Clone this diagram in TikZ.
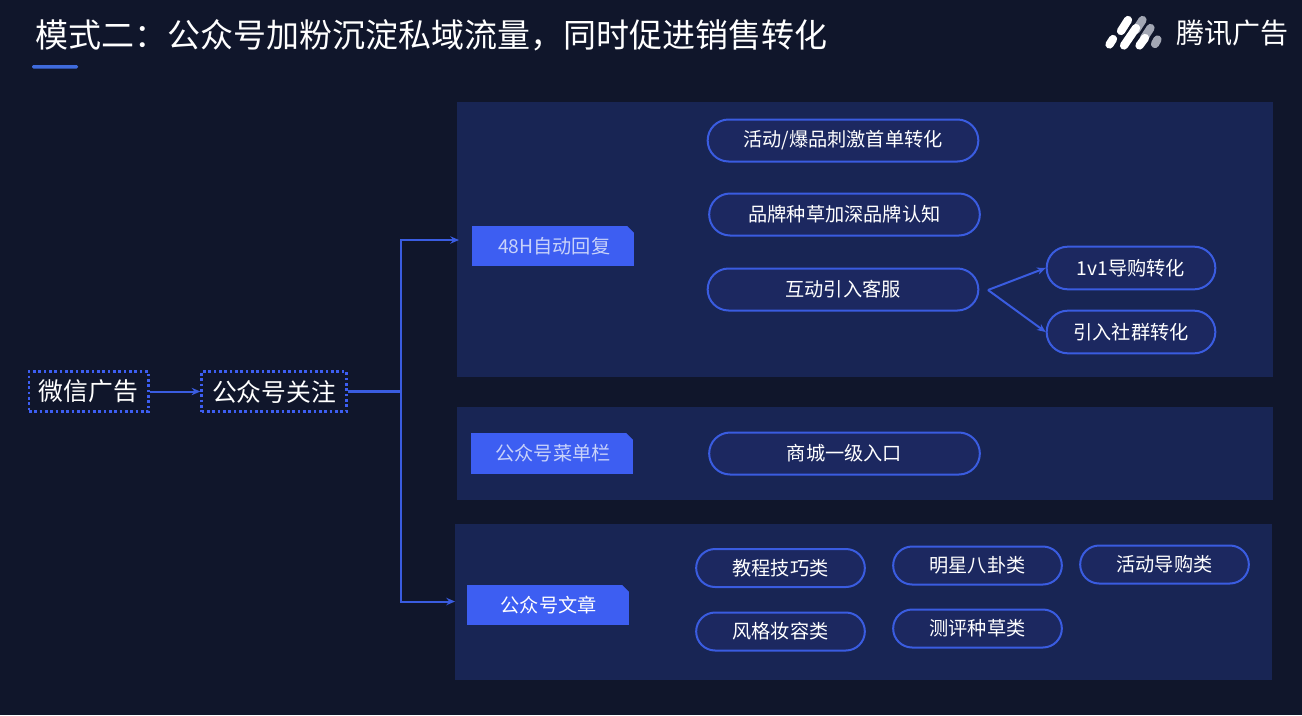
\documentclass[tikz,border=0pt]{standalone}
\usepackage{fontspec}
\setmainfont{Noto Sans CJK SC}
\usepackage{xcolor}
\usetikzlibrary{positioning}
\usetikzlibrary{arrows.meta}
\definecolor{bgdark}{HTML}{10162B}
\definecolor{panelblue}{HTML}{182554}
\definecolor{pillblue}{HTML}{1C2860}
\definecolor{edgeblue}{HTML}{3A5CE0}
\definecolor{tabblue}{HTML}{3D5EF2}
\definecolor{underblue}{HTML}{3F6BDD}
\definecolor{paletext}{HTML}{C8D2FA}
\definecolor{logogray}{HTML}{A3A7B4}
\tikzset{
	panelbox/.style={fill=panelblue, anchor=north west, inner sep=0pt},
	pillbox/.style={draw=edgeblue, fill=pillblue, line width=1.5pt, rounded corners=15.7pt, inner sep=0pt, text=white, font=\fontsize{14.4}{16}\selectfont},
	widepill/.style={pillbox, minimum width=203pt, minimum height=31.5pt},
	smallpill/.style={pillbox, minimum width=126.5pt, minimum height=28.5pt, rounded corners=14.2pt},
	tabbox/.style={fill=tabblue, inner sep=0pt, minimum width=121.5pt, minimum height=30pt, font=\fontsize{14.4}{16}\selectfont, path picture={\fill[panelblue] (path picture bounding box.north east) -- ++(-5pt,0) -- ++(5pt,-5pt) -- cycle;}},
	dotbox/.style={draw=tabblue, line width=2pt, dash pattern=on 2pt off 2pt, inner sep=0pt, minimum height=30pt, text=white, font=\fontsize{18.6}{20}\selectfont},
	link/.style={edgeblue, line width=1.5pt},
	arrowlink/.style={link, -{Stealth[length=6.5pt, width=5.5pt]}},
	logostroke/.style={line width=6.2pt, line cap=round}
}
\begin{document}
\begin{tikzpicture}[x=0.75pt, y=-0.75pt]
	\fill[bgdark] (0, 0) rectangle (1302, 715);
	\useasboundingbox (0, 0) rectangle (1302, 715);
	% header
	\node[anchor=west, inner sep=0pt, text=white, font=\fontsize{24.75}{28}\selectfont] (title) at (35.5, 35) {模式二：公众号加粉沉淀私域流量，同时促进销售转化};
	\fill[underblue, rounded corners=1pt] (32, 65) rectangle (78, 68.5);
	\draw[logostroke, logogray] (1142.5, 20) -- (1136, 30);
	\draw[logostroke, logogray] (1150.5, 28) -- (1144, 38);
	\draw[logostroke, logogray] (1157.5, 39.5) -- (1155, 44);
	\draw[logostroke, white] (1109.5, 44.5) -- (1113, 39);
	\draw[logostroke, white] (1121, 31) -- (1128, 20);
	\draw[logostroke, white] (1124, 45.5) -- (1136, 28);
	\draw[logostroke, white] (1139.5, 45.5) -- (1145, 38);
	\node[anchor=west, inner sep=0pt, text=white, font=\fontsize{21}{24}\selectfont] (logotext) at (1176, 33) {腾讯广告};
	% panels
	\node[panelbox, minimum width=612pt, minimum height=206.25pt] (panelreply) at (457, 102) {};
	\node[panelbox, minimum width=612pt, minimum height=69.75pt] (panelmenu) at (457, 407) {};
	\node[panelbox, minimum width=612.75pt, minimum height=117pt] (panelpost) at (455, 524) {};
	% left chain
	\node[dotbox, minimum width=89.5pt] (wxad) at (88.5, 391.5) {微信广告};
	\node[dotbox, minimum width=108.5pt] (follow) at (274, 391.5) {公众号关注};
	\coordinate (junction) at (401, 391.5);
	\coordinate (inreply) at (459, 240);
	\coordinate (inpost) at (455, 601.5);
	\draw[arrowlink] (wxad.east) -- (follow.west);
	\draw[link, line width=2.2pt] (follow.east) -- (junction);
	\draw[arrowlink] (junction) |- (inreply);
	\draw[arrowlink] (junction) |- (inpost);
	% tabs
	\node[tabbox, text=paletext] (tabreply) at (553, 246) {\hspace{2pt}48H自动回复};
	\node[tabbox, text=paletext, minimum height=30.75pt] (tabmenu) at (552, 453.5) {\hspace{1.5pt}公众号菜单栏};
	\node[tabbox, text=white] (tabpost) at (548, 605) {\hspace{1pt}公众号文章};
	% first panel
	\node[widepill] (hot) at (843, 140.5) {活动/爆品刺激首单转化};
	\node[widepill] (brand) at (844.5, 214.5) {品牌种草加深品牌认知};
	\node[widepill] (service) at (843, 289.5) {互动引入客服};
	\node[smallpill, minimum height=32pt, rounded corners=15.9pt] (guide) at (1131, 268) {\raisebox{1.5pt}{1v1导购转化}};
	\node[smallpill, minimum height=32pt, rounded corners=15.9pt] (group) at (1131, 332) {\raisebox{1.5pt}{引入社群转化}};
	\coordinate (fork) at (988, 290);
	\draw[arrowlink] (fork) -- (guide.west);
	\draw[arrowlink] (fork) -- (group.west);
	% second panel
	\node[widepill] (mall) at (844.5, 453.5) {商城一级入口};
	% third panel
	\node[smallpill] (tutorial) at (780.5, 568) {\raisebox{.75pt}{教程技巧类}};
	\node[smallpill] (style) at (780.5, 631.5) {\raisebox{.75pt}{风格妆容类}};
	\node[smallpill] (star) at (977.5, 565.5) {\raisebox{.75pt}{明星八卦类}};
	\node[smallpill] (review) at (977.5, 628.5) {\raisebox{.75pt}{测评种草类}};
	\node[smallpill] (promo) at (1164.5, 564.5) {\raisebox{.75pt}{活动导购类}};
\end{tikzpicture}
\end{document}
